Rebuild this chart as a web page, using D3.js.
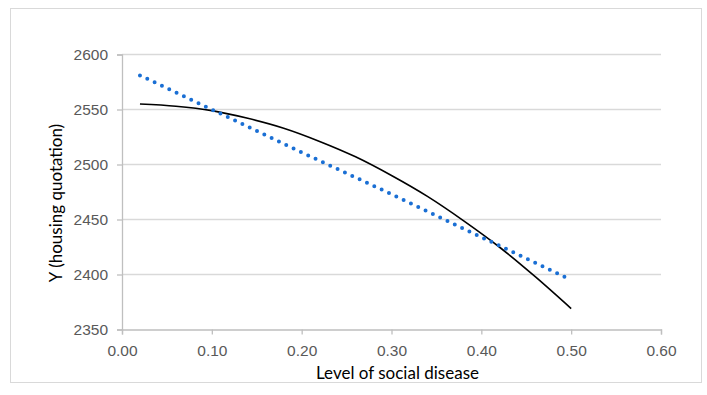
<!DOCTYPE html>
<html>
<head>
<meta charset="utf-8">
<script src="https://cdn.jsdelivr.net/npm/d3@7"></script>
<style>
  body { margin: 0; background: #fff; }
  svg { display: block; font-family: Lato, "Open Sans", sans-serif; }
</style>
</head>
<body>
<svg id="chart"></svg>
<script>
// fitted curve (black solid)
var curveX = [0.02, 0.06, 0.10, 0.14, 0.18, 0.22, 0.26, 0.30, 0.34, 0.38, 0.42, 0.46, 0.50];
var curveY = [2555, 2553, 2549, 2542, 2533, 2521, 2507, 2490, 2471, 2449, 2425, 2398, 2369];

// linear line (blue dotted)
var lineX = [0.02, 0.10, 0.20, 0.30, 0.40, 0.50];
var lineY = [2581, 2550, 2511, 2473, 2434, 2395];

var xTicks = [0, 0.1, 0.2, 0.3, 0.4, 0.5, 0.6];
var yTicks = [2350, 2400, 2450, 2500, 2550, 2600];

var xTitle = "Level of social disease";
var yTitle = "Y (housing quotation)";

var W = 707, H = 395;
var margin = {top: 54.5, right: 46, bottom: 65.5, left: 122};
var width = W - margin.left - margin.right,
    height = H - margin.top - margin.bottom;

var svg = d3.select("#chart").attr("width", W).attr("height", H);

// outer frame
svg.append("rect")
    .attr("x", 10.5).attr("y", 8.5)
    .attr("width", 691).attr("height", 374)
    .attr("fill", "#fff")
    .attr("stroke", "#d9d9d9");

var g = svg.append("g")
    .attr("transform", "translate(" + margin.left + "," + margin.top + ")");

var x = d3.scaleLinear().domain([0, 0.6]).range([0, width]);
var y = d3.scaleLinear().domain([2350, 2600]).range([height, 0]);

// gridlines
g.append("g")
    .selectAll("line")
    .data(yTicks.slice(1))
    .join("line")
      .attr("x1", 0).attr("x2", width)
      .attr("y1", function(d) { return y(d); })
      .attr("y2", function(d) { return y(d); })
      .attr("stroke", "#d9d9d9")
      .attr("stroke-width", 1.3);

// Y axis
var yAxis = g.append("g")
    .call(d3.axisLeft(y).tickValues(yTicks).tickSize(5).tickPadding(9).tickFormat(d3.format("d")));
// X axis
var xAxis = g.append("g")
    .attr("transform", "translate(0," + height + ")")
    .call(d3.axisBottom(x).tickValues(xTicks).tickSize(5).tickPadding(10).tickFormat(d3.format(".2f")));

[yAxis, xAxis].forEach(function(a) {
    a.select(".domain").attr("stroke", "#bfbfbf").attr("stroke-width", 1.3);
    a.selectAll(".tick line").attr("stroke", "#bfbfbf").attr("stroke-width", 1.3);
    a.selectAll("text").attr("fill", "#595959").style("font-size", "15.5px");
});

// black fitted curve
var curveData = curveX.map(function(v, i) { return {x: v, y: curveY[i]}; });
g.append("path")
    .datum(curveData)
    .attr("fill", "none")
    .attr("stroke", "#000")
    .attr("stroke-width", 1.6)
    .attr("d", d3.line()
        .x(function(d) { return x(d.x); })
        .y(function(d) { return y(d.y); })
        .curve(d3.curveMonotoneX));

// blue dotted line
var lineData = lineX.map(function(v, i) { return {x: v, y: lineY[i]}; });
g.append("path")
    .datum(lineData)
    .attr("fill", "none")
    .attr("stroke", "#1a6fd4")
    .attr("stroke-width", 4)
    .attr("stroke-linecap", "round")
    .attr("stroke-dasharray", "0,8.1")
    .attr("d", d3.line()
        .x(function(d) { return x(d.x); })
        .y(function(d) { return y(d.y); }));

// axis titles
svg.append("text")
    .attr("x", margin.left + width / 2 + 6)
    .attr("y", 379)
    .attr("text-anchor", "middle")
    .attr("fill", "#000")
    .style("font-size", "17px")
    .text(xTitle);

svg.append("text")
    .attr("transform", "translate(62," + 203 + ") rotate(-90)")
    .attr("text-anchor", "middle")
    .attr("fill", "#000")
    .style("font-size", "17px")
    .text(yTitle);
</script>
</body>
</html>
